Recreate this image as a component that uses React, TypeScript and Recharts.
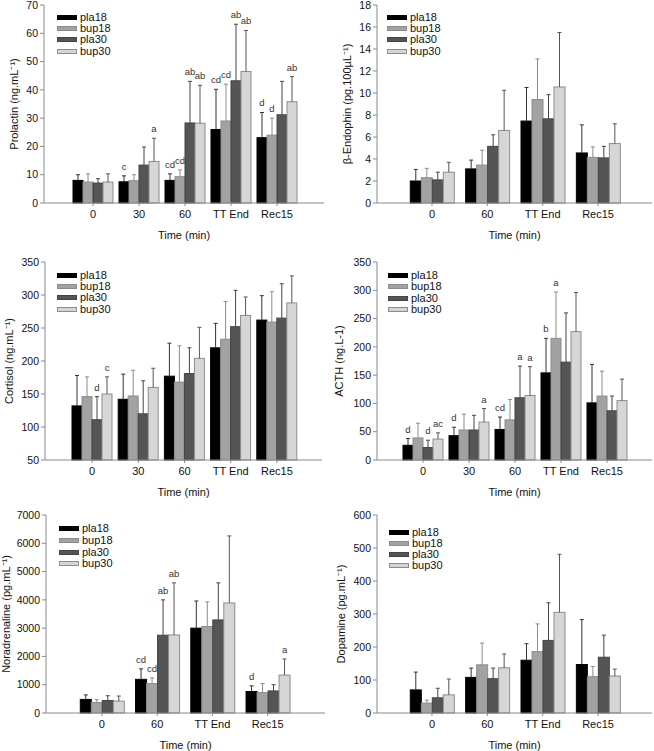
import React from "react";
import { BarChart, Bar, XAxis, YAxis, Legend } from "recharts";

const FONT = '"Liberation Sans", Arial, sans-serif';

const times5 = ["0", "30", "60", "TT End", "Rec15"];
const times4 = ["0", "60", "TT End", "Rec15"];
const groupNames = ["pla18", "bup18", "pla30", "bup30"];

// means and SD, rows in groupNames order
const prolactinMean = [
  [8.0, 7.5, 8.0, 26.0, 23.1],
  [7.4, 7.9, 9.3, 29.0, 24.0],
  [7.05, 13.4, 28.3, 43.2, 31.2],
  [7.4, 14.7, 28.2, 46.5, 35.8],
];
const prolactinSd = [
  [2.0, 2.1, 2.3, 14.2, 8.9],
  [2.9, 2.1, 2.4, 13.0, 6.0],
  [1.55, 6.4, 14.7, 20.0, 11.8],
  [2.9, 8.2, 13.4, 14.5, 8.9],
];
const prolactinSig = [
  ["", "c", "cd", "cd", "d"],
  ["", "", "cd", "cd", "d"],
  ["", "", "ab", "ab", ""],
  ["", "a", "ab", "ab", "ab"],
];

const endorphinMean = [
  [2.0, 3.1, 7.45, 4.55],
  [2.3, 3.45, 9.4, 4.15],
  [2.1, 5.15, 7.65, 4.1],
  [2.8, 6.6, 10.55, 5.4],
];
const endorphinSd = [
  [1.05, 0.8, 3.05, 2.55],
  [0.85, 1.35, 3.7, 0.95],
  [0.7, 1.05, 2.2, 1.05],
  [0.9, 3.65, 4.95, 1.8],
];

const cortisolMean = [
  [132, 142, 177, 220, 262],
  [146, 147, 168, 233, 259],
  [111, 120, 181, 252, 265],
  [150, 160, 204, 269, 288],
];
const cortisolSd = [
  [46, 38, 50, 37, 37],
  [30, 39, 55, 57, 46],
  [35, 50, 39, 55, 52],
  [26, 29, 47, 28, 41],
];
const cortisolSig = [
  ["", "", "", "", ""],
  ["", "", "", "", ""],
  ["d", "", "", "", ""],
  ["c", "", "", "", ""],
];

const acthMean = [
  [26, 43, 54, 154, 101],
  [39, 53, 71, 215, 113],
  [22, 53, 110, 173, 87],
  [37, 67, 114, 227, 105],
];
const acthSd = [
  [12, 15, 22, 61, 68],
  [26, 28, 36, 82, 44],
  [13, 26, 56, 87, 26],
  [11, 24, 51, 69, 38],
];
const acthSig = [
  ["d", "d", "cd", "b", ""],
  ["", "", "", "a", ""],
  ["d", "", "a", "", ""],
  ["ac", "a", "a", "", ""],
];

const noradMean = [
  [480, 1190, 3000, 760],
  [370, 1040, 3060, 720],
  [440, 2750, 3290, 780],
  [420, 2760, 3890, 1340],
];
const noradSd = [
  [160, 370, 960, 200],
  [100, 200, 870, 320],
  [170, 1250, 1310, 220],
  [180, 1840, 2370, 570],
];
const noradSig = [
  ["", "cd", "", "d"],
  ["", "cd", "", ""],
  ["", "ab", "", ""],
  ["", "ab", "", "a"],
];

const dopamineMean = [
  [70, 108, 160, 147],
  [30, 146, 186, 110],
  [46, 104, 220, 169],
  [55, 137, 305, 112],
];
const dopamineSd = [
  [54, 28, 50, 136],
  [9, 66, 84, 31],
  [29, 32, 114, 67],
  [48, 42, 176, 21],
];

const groupStyle = [
  { fill: "#000000", stroke: "#000000", err: "#333333" },
  { fill: "#a2a2a2", stroke: "#8c8c8c", err: "#8c8c8c" },
  { fill: "#555555", stroke: "#444444", err: "#444444" },
  { fill: "#d6d6d6", stroke: "#8c8c8c", err: "#555555" },
];

// bar + upper SD whisker + significance letter
const errShape = (g: string, j: number, dmin: number) => (p: any) => {
  const { x, y, width, height, payload } = p;
  const v = payload[g];
  const sd = payload[g + "_sd"];
  const sig = payload[g + "_sig"];
  const k = height / (v - dmin);
  const cx = x + width / 2;
  const yTop = y - sd * k;
  const st = groupStyle[j];
  return (
    <g>
      <rect x={x} y={y} width={width} height={height} fill={st.fill} stroke={st.stroke} strokeWidth={1} />
      <line x1={cx} y1={y} x2={cx} y2={yTop} stroke={st.err} strokeWidth={1} />
      <line x1={cx - 2} y1={yTop} x2={cx + 2} y2={yTop} stroke={st.err} strokeWidth={1} />
      {sig ? (
        <text x={cx} y={yTop - 6} textAnchor="middle" fontSize={9.5} fontFamily={FONT} fill="#333">
          {sig}
        </text>
      ) : null}
    </g>
  );
};

const LegendBox = ({ rowH }: { rowH: number }) => (
  <div style={{ fontFamily: FONT, fontSize: 11, color: "#111" }}>
    {groupNames.map((g, j) => (
      <div key={g} style={{ display: "flex", alignItems: "center", height: rowH }}>
        <span
          style={{
            display: "inline-block",
            boxSizing: "border-box",
            width: 20,
            height: 5,
            background: groupStyle[j].fill,
            border: `1px solid ${groupStyle[j].stroke}`,
            marginRight: 3,
          }}
        />
        <span style={{ lineHeight: 1 }}>{g}</span>
      </div>
    ))}
  </div>
);

type PanelProps = {
  left: number;
  plotTop: number;
  yAxisW: number;
  plotRight: number;
  plotH: number;
  padL: number;
  padR: number;
  barSize: number;
  categories: string[];
  means: number[][];
  sds: number[][];
  sig?: string[][];
  domain: [number, number];
  ticks: number[];
  yLabel: string;
  yLabelX: number;
  legendLeft: number;
  legendTop: number;
  legendRow: number;
};

const TOP_PAD = 10;

function Panel(props: PanelProps) {
  const {
    left, plotTop, yAxisW, plotRight, plotH, padL, padR, barSize,
    categories, means, sds, sig, domain, ticks, yLabel, yLabelX,
    legendLeft, legendTop, legendRow,
  } = props;
  const rows = categories.map((t, i) => {
    const r: any = { time: t };
    groupNames.forEach((g, j) => {
      r[g] = means[j][i];
      r[g + "_sd"] = sds[j][i];
      r[g + "_sig"] = sig ? sig[j][i] : "";
    });
    return r;
  });
  const width = plotRight + 2;
  const height = TOP_PAD + plotH + 40 + 2;
  return (
    <div style={{ position: "absolute", left, top: plotTop - TOP_PAD }}>
      <BarChart
        width={width}
        height={height}
        data={rows}
        margin={{ top: TOP_PAD, right: 2, bottom: 2, left: 0 }}
        barGap={0}
        barSize={barSize}
      >
        <XAxis
          dataKey="time"
          height={40}
          padding={{ left: padL, right: padR }}
          stroke="#8a8a8a"
          tickSize={3}
          tickMargin={4}
          tick={{ fontSize: 11, fill: "#111", fontFamily: FONT }}
          label={{
            value: "Time (min)",
            position: "insideBottom",
            offset: 4,
            style: { fontSize: 11, fill: "#111", fontFamily: FONT },
          }}
        />
        <YAxis
          type="number"
          width={yAxisW}
          domain={domain}
          ticks={ticks}
          interval={0}
          stroke="#8a8a8a"
          tickSize={4}
          tickMargin={2}
          tick={{ fontSize: 10.5, fill: "#111", fontFamily: FONT }}
          label={{
            value: yLabel,
            angle: -90,
            position: "insideLeft",
            offset: yLabelX,
            style: { textAnchor: "middle", fontSize: 11, fill: "#111", fontFamily: FONT },
          }}
        />
        <Legend
          layout="vertical"
          align="center"
          verticalAlign="middle"
          wrapperStyle={{ left: legendLeft, top: legendTop + TOP_PAD, width: 90, height: legendRow * 4 }}
          content={() => <LegendBox rowH={legendRow} />}
        />
        {groupNames.map((g, j) => (
          <Bar
            key={g}
            dataKey={g}
            name={g}
            fill={groupStyle[j].fill}
            stroke={groupStyle[j].stroke}
            isAnimationActive={false}
            shape={errShape(g, j, domain[0])}
          />
        ))}
      </BarChart>
    </div>
  );
}

export default function App() {
  return (
    <div
      style={{
        position: "absolute",
        left: 0,
        top: 0,
        width: 654,
        height: 751,
        overflow: "hidden",
        background: "#fff",
      }}
    >
      <Panel
        left={0} plotTop={5} yAxisW={44} plotRight={324} plotH={198}
        padL={26} padR={24} barSize={10}
        categories={times5} means={prolactinMean} sds={prolactinSd} sig={prolactinSig}
        domain={[0, 70]} ticks={[0, 10, 20, 30, 40, 50, 60, 70]}
        yLabel="Prolactin (ng.mL⁻¹)" yLabelX={14}
        legendLeft={57} legendTop={6.5} legendRow={11.3}
      />
      <Panel
        left={330} plotTop={5} yAxisW={47} plotRight={322} plotH={198}
        padL={27.3} padR={26.3} barSize={11}
        categories={times4} means={endorphinMean} sds={endorphinSd}
        domain={[0, 18]} ticks={[0, 2, 4, 6, 8, 10, 12, 14, 16, 18]}
        yLabel="β-Endophin (pg.100µL⁻¹)" yLabelX={17}
        legendLeft={57} legendTop={6.5} legendRow={11.3}
      />
      <Panel
        left={0} plotTop={262} yAxisW={45} plotRight={322} plotH={198}
        padL={24} padR={22} barSize={10}
        categories={times5} means={cortisolMean} sds={cortisolSd} sig={cortisolSig}
        domain={[50, 350]} ticks={[50, 100, 150, 200, 250, 300, 350]}
        yLabel="Cortisol (ng.mL⁻¹)" yLabelX={9}
        legendLeft={57} legendTop={7.5} legendRow={11.4}
      />
      <Panel
        left={330} plotTop={262} yAxisW={47} plotRight={322} plotH={198}
        padL={23} padR={22} barSize={10}
        categories={times5} means={acthMean} sds={acthSd} sig={acthSig}
        domain={[0, 350]} ticks={[0, 50, 100, 150, 200, 250, 300, 350]}
        yLabel="ACTH (ng.L-1)" yLabelX={9}
        legendLeft={58} legendTop={8} legendRow={11.3}
      />
      <Panel
        left={0} plotTop={515} yAxisW={46} plotRight={325} plotH={198}
        padL={28.3} padR={29.7} barSize={11}
        categories={times4} means={noradMean} sds={noradSd} sig={noradSig}
        domain={[0, 7000]} ticks={[0, 1000, 2000, 3000, 4000, 5000, 6000, 7000]}
        yLabel="Noradrenaline (pg.mL⁻¹)" yLabelX={6}
        legendLeft={59} legendTop={8} legendRow={11.7}
      />
      <Panel
        left={330} plotTop={515} yAxisW={47} plotRight={322} plotH={198}
        padL={27.3} padR={26.3} barSize={11}
        categories={times4} means={dopamineMean} sds={dopamineSd}
        domain={[0, 600]} ticks={[0, 100, 200, 300, 400, 500, 600]}
        yLabel="Dopamine (pg.mL⁻¹)" yLabelX={11}
        legendLeft={59} legendTop={11.5} legendRow={11}
      />
    </div>
  );
}
